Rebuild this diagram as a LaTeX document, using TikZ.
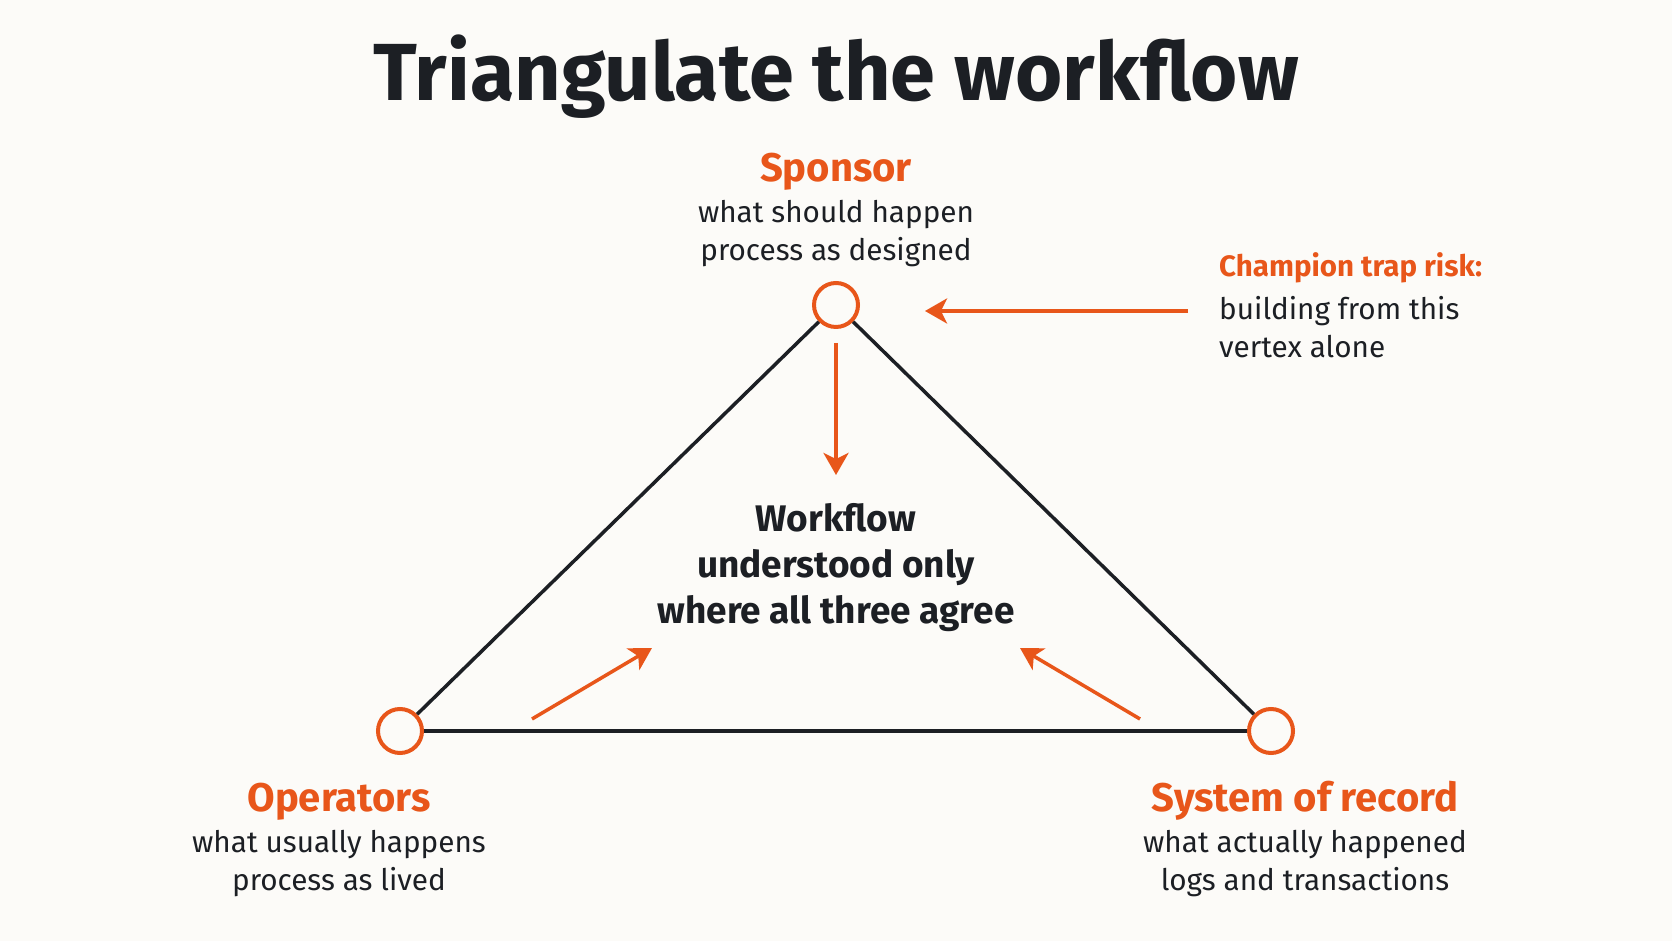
\documentclass[tikz,border=0pt]{standalone}
\usepackage{fontspec}
\setmainfont{Fira Sans}
\usetikzlibrary{arrows.meta}
\definecolor{accent}{HTML}{E8561A}
\definecolor{ink}{HTML}{1C1F24}
\definecolor{paper}{HTML}{FCFBF8}
\tikzstyle{vertex}=[circle, draw=accent, line width=4pt, fill=paper, minimum size=44pt, inner sep=0]
\tikzstyle{edge}=[draw=ink, line width=3.5pt]
\tikzstyle{pointer}=[draw=accent, line width=3.5pt, -{Stealth[length=22pt, width=25pt, inset=6pt]}]
\tikzstyle{role}=[text=accent, anchor=base, inner sep=0, font=\fontsize{40}{44}\selectfont\bfseries]
\tikzstyle{desc}=[text=ink, anchor=base, inner sep=0, align=center, font=\fontsize{29.7}{38.5}\selectfont]

\begin{document}
\begin{tikzpicture}[x=1pt, y=1pt]
      \fill[paper] (0, 0) rectangle (1672, 941);
      \node[text=ink, anchor=base, inner sep=0, font=\fontsize{81}{86}\selectfont\bfseries] (title) at (836, 840) {Triangulate the workflow};

      \node[vertex] (sponsor) at (836, 636) {};
      \node[vertex] (operators) at (400, 210) {};
      \node[vertex] (record) at (1271, 210) {};

      \draw[edge] (sponsor) -- (operators);
      \draw[edge] (sponsor) -- (record);
      \draw[edge] (operators) -- (record);

      % base of a two-line text sits on its last line
      \node[role] (sponsor_lbl) at (836, 759) {Sponsor};
      \node[desc] (sponsor_desc) at (836, 680) {what should happen\\process as designed};
      \node[role] (operators_lbl) at (339, 129) {Operators};
      \node[desc] (operators_desc) at (339, 50) {what usually happens\\process as lived};
      \node[role] (record_lbl) at (1305, 129) {System of record};
      \node[desc] (record_desc) at (1305, 50) {what actually happened\\logs and transactions};

      \node[text=ink, anchor=base, inner sep=0, align=center, font=\fontsize{37}{46}\selectfont\bfseries] (core) at (836, 317)
        {Workflow\\understood only\\where all three agree};

      \node[text=accent, anchor=base west, inner sep=0, font=\fontsize{29.5}{40}\selectfont\bfseries] (trap_lbl) at (1219, 664) {Champion trap risk:};
      \node[desc, anchor=base west, align=left] (trap_desc) at (1219, 583) {building from this\\vertex alone};

      % arrows into the middle
      \coordinate (down_from) at (836, 598);
      \coordinate (down_to) at (836, 466);
      \coordinate (trap_from) at (1188, 630);
      \coordinate (trap_to) at (925, 630);
      \coordinate (left_from) at (532, 222);
      \coordinate (left_to) at (652, 293);
      \coordinate (right_from) at (1140, 222);
      \coordinate (right_to) at (1020, 293);

      \draw[pointer] (down_from) -- (down_to);
      \draw[pointer] (trap_from) -- (trap_to);
      \draw[pointer] (left_from) -- (left_to);
      \draw[pointer] (right_from) -- (right_to);
\end{tikzpicture}
\end{document}
